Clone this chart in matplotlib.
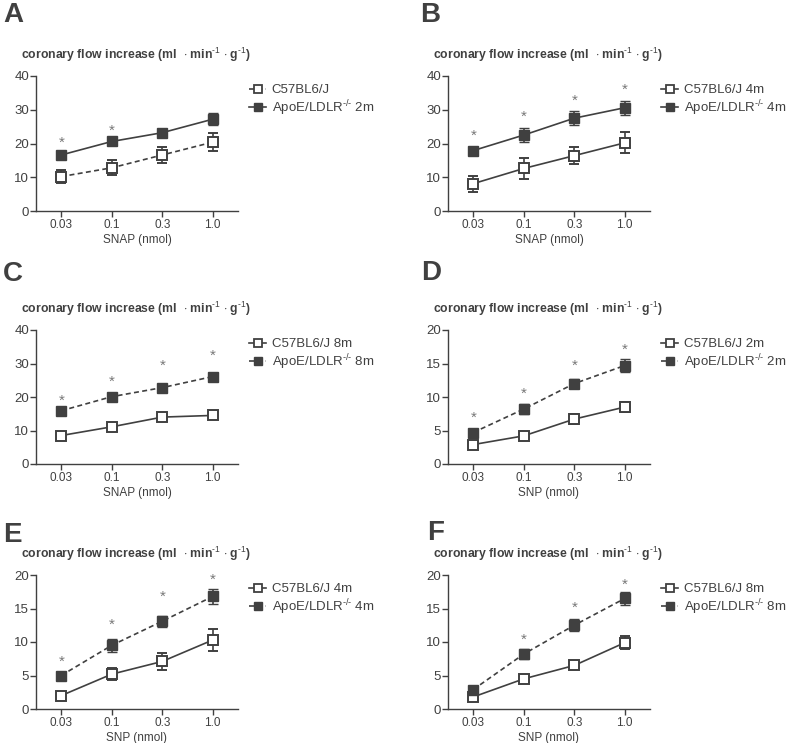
import matplotlib
matplotlib.use("Agg")
import matplotlib.pyplot as plt
from matplotlib.lines import Line2D

plt.rcParams['font.family'] = ['Liberation Sans', 'DejaVu Sans']
plt.rcParams['mathtext.fontset'] = 'custom'
plt.rcParams['mathtext.rm'] = 'Liberation Sans'

DARK = '#404040'
STAR = '#777777'

doses = ['0.03', '0.1', '0.3', '1.0']

# panel A (SNAP)
a_wt = [10.2, 12.8, 16.6, 20.4]
a_wt_err = [1.9, 2.2, 2.4, 2.6]
a_ko = [16.6, 20.6, 23.2, 27.2]
a_ko_err = [0.4, 0.9, 1.2, 1.7]
a_star = [20.2, 23.7, None, None]

# panel B (SNAP)
b_wt = [8.1, 12.6, 16.4, 20.2]
b_wt_err = [2.4, 3.2, 2.6, 3.1]
b_ko = [17.9, 22.5, 27.5, 30.6]
b_ko_err = [1.0, 2.0, 2.0, 2.1]
b_star = [22.2, 28.0, 32.6, 35.8]

# panel C (SNAP)
c_wt = [8.5, 11.1, 14.0, 14.5]
c_wt_err = [0.3, 0.5, 0.9, 1.0]
c_ko = [15.9, 20.1, 22.8, 26.1]
c_ko_err = [0.4, 1.2, 1.1, 1.2]
c_star = [18.8, 24.4, 29.2, 32.2]

# panel D (SNP)
d_wt = [2.9, 4.2, 6.7, 8.5]
d_wt_err = [0.5, 0.5, 0.8, 0.7]
d_ko = [4.7, 8.2, 12.0, 14.7]
d_ko_err = [0.2, 0.8, 0.7, 1.0]
d_star = [6.9, 10.5, 14.6, 17.0]

# panel E (SNP)
e_wt = [2.0, 5.2, 7.1, 10.3]
e_wt_err = [0.3, 0.9, 1.3, 1.7]
e_ko = [5.0, 9.5, 13.1, 16.8]
e_ko_err = [0.5, 1.0, 0.8, 1.1]
e_star = [7.0, 12.6, 16.8, 19.3]

# panel F (SNP)
f_wt = [1.8, 4.5, 6.5, 9.9]
f_wt_err = [0.3, 0.4, 0.5, 1.0]
f_ko = [2.9, 8.2, 12.5, 16.5]
f_ko_err = [0.3, 0.8, 0.9, 1.0]
f_star = [None, 10.4, 15.1, 18.6]

KO = 'ApoE/LDLR$^{\\text{-/-}}$'

panels = [
    # letter, wt, wt_err, ko, ko_err, stars, wt label, ko label, wt dashed, ko dashed, xlabel, ymax
    ('A', a_wt, a_wt_err, a_ko, a_ko_err, a_star, 'C57BL6/J', KO + ' 2m', True, False, 'SNAP (nmol)', 40),
    ('B', b_wt, b_wt_err, b_ko, b_ko_err, b_star, 'C57BL6/J 4m', KO + ' 4m', False, False, 'SNAP (nmol)', 40),
    ('C', c_wt, c_wt_err, c_ko, c_ko_err, c_star, 'C57BL6/J 8m', KO + ' 8m', False, True, 'SNAP (nmol)', 40),
    ('D', d_wt, d_wt_err, d_ko, d_ko_err, d_star, 'C57BL6/J 2m', KO + ' 2m', False, True, 'SNP (nmol)', 20),
    ('E', e_wt, e_wt_err, e_ko, e_ko_err, e_star, 'C57BL6/J 4m', KO + ' 4m', False, True, 'SNP (nmol)', 20),
    ('F', f_wt, f_wt_err, f_ko, f_ko_err, f_star, 'C57BL6/J 8m', KO + ' 8m', False, True, 'SNP (nmol)', 20),
]

W, H = 787, 743
fig = plt.figure(figsize=(W / 100, H / 100), dpi=100)

# axes boxes in pixels: left, right, top, bottom
boxes = [(36, 238, 76, 211), (448, 650, 76, 211),
         (36, 238, 330, 464), (448, 650, 330, 464),
         (36, 238, 575, 709), (448, 650, 575, 709)]
letter_pos = [(3, 15), (420, 15), (3, 274), (421, 273), (3, 535), (427, 533)]

title = 'coronary flow increase (ml  $\\cdot$ min$^{\\text{-1}}$ $\\cdot$ g$^{\\text{-1}}$)'

x = list(range(len(doses)))

for (letter, wt, wt_err, ko, ko_err, stars, lab_wt, lab_ko, wt_dash, ko_dash, xlab, ymax), box, lp in zip(panels, boxes, letter_pos):
    l, r, t, b = box
    ax = fig.add_axes([l / W, 1 - b / H, (r - l) / W, (b - t) / H])

    wt_style = dict(color=DARK, lw=1.2, ls=(0, (3, 2)) if wt_dash else '-')
    ko_style = dict(color=DARK, lw=1.2, ls=(0, (3, 2)) if ko_dash else '-')

    ax.errorbar(x, wt, yerr=wt_err, marker='s', ms=7, mfc='white', mec=DARK, mew=1.4,
                capsize=3.5, elinewidth=1.2, capthick=1.2, zorder=3, **wt_style)
    ax.errorbar(x, ko, yerr=ko_err, marker='s', ms=7, mfc=DARK, mec=DARK, mew=1.0,
                capsize=3.5, elinewidth=1.2, capthick=1.2, zorder=3, **ko_style)

    for xi, s in zip(x, stars):
        if s is not None:
            ax.text(xi, s, '*', color=STAR, fontsize=11, ha='center', va='center')

    ax.set_xlim(-0.5, 3.5)
    ax.set_ylim(0, ymax)
    ax.set_yticks(range(0, ymax + 1, ymax // 4))
    ax.set_xticks(x)
    ax.set_xticklabels(doses)
    ax.set_xlabel(xlab, fontsize=8.5, color=DARK, labelpad=2)
    for side in ['top', 'right']:
        ax.spines[side].set_visible(False)
    for side in ['left', 'bottom']:
        ax.spines[side].set_color(DARK)
        ax.spines[side].set_linewidth(1.0)
    ax.tick_params(axis='y', labelsize=9.5, colors=DARK, length=4, width=1.0, pad=1)
    ax.tick_params(axis='x', labelsize=8.5, colors=DARK, length=4, width=1.0, pad=2)

    handles = [Line2D([], [], marker='s', ms=6, mfc='white', mec=DARK, mew=1.3, **wt_style),
               Line2D([], [], marker='s', ms=6, mfc=DARK, mec=DARK, mew=1.0, **ko_style)]
    leg = ax.legend(handles, [lab_wt, lab_ko], loc='upper left', bbox_to_anchor=(1.03, 0.98),
                    frameon=False, handlelength=1.3, handletextpad=0.4, labelspacing=0.15,
                    fontsize=9.5, borderaxespad=0)
    for txt in leg.get_texts():
        txt.set_color(DARK)

    fig.text((l - 15) / W, 1 - (t - 21) / H, title, fontsize=8.8, fontweight='bold',
             color=DARK, ha='left', va='center')
    fig.text(lp[0] / W, 1 - lp[1] / H, letter, fontsize=20, fontweight='bold',
             color=DARK, ha='left', va='center')

fig.savefig('out.png', dpi=100)
